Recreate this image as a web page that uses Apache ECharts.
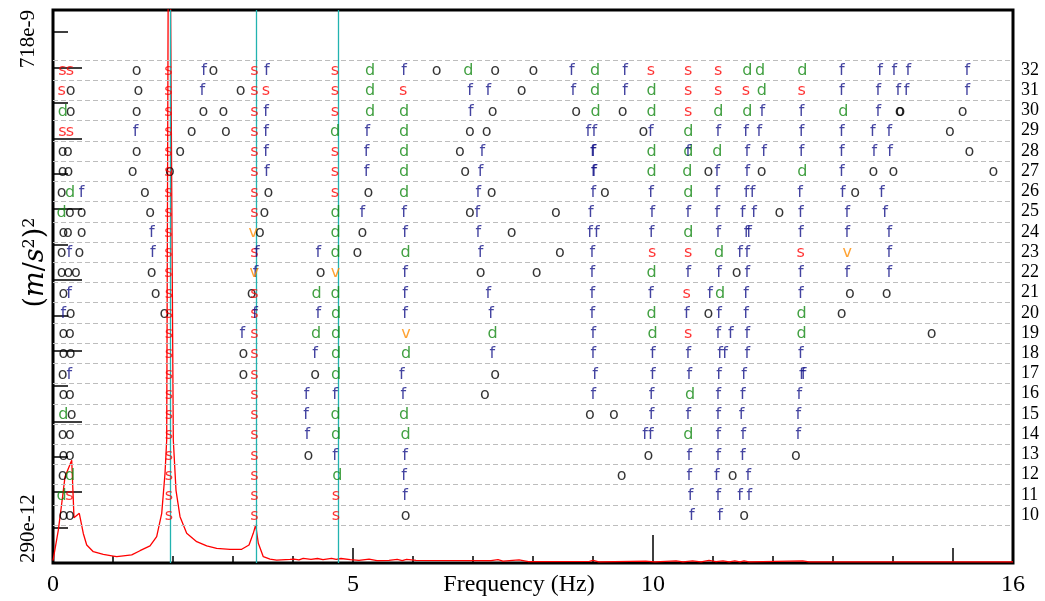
<!DOCTYPE html>
<html>
<head>
<meta charset="utf-8">
<script src="https://cdn.jsdelivr.net/npm/echarts@6/dist/echarts.min.js"></script>
<style>html,body{margin:0;padding:0;background:#fff}#c{width:1045px;height:601px}</style>
</head>
<body>
<div id="c"></div>
<script>
// ---------- data ----------
const orders = [10,11,12,13,14,15,16,17,18,19,20,21,22,23,24,25,26,27,28,29,30,31,32];
const gridRows = [9.5,10.5,11.5,12.5,13.5,14.5,15.5,16.5,17.5,18.5,19.5,20.5,21.5,22.5,23.5,24.5,25.5,26.5,27.5,28.5,29.5,30.5,31.5,32.5];
const xTickLabels = [0, 5, 10, 16];
const psdMin = 290e-12, psdMax = 718e-9;
const psdLabels = ['290e-12', '718e-9'];
const modeFreqs = [1.945, 3.378, 4.745];

const specFreq = [0,0.088,0.145,0.2,0.312,0.35,0.438,0.505,0.562,0.672,0.838,1.005,1.062,1.172,1.312,1.45,1.617,1.728,1.812,1.867,1.895,1.933,2.005,2.05,2.117,2.228,2.395,2.562,2.728,2.95,3.145,3.267,3.338,3.378,3.422,3.505,3.617,3.728,3.95,4.017,4.1,4.17,4.3,4.408,4.5,4.643,4.72,4.8,4.955,5.1,5.268,5.4,5.6,5.737,5.82,5.893,6.05,7.3,7.417,7.5,7.768,7.925,8.94,9.0,9.097,9.878,10.033,10.385,10.5,10.66,10.8,10.933,11.05,11.167,11.27,11.363,11.45,11.518,11.6,12.495,12.6,16];
const specPSD = [3.0e-10,4.6e-10,6.7e-10,9.8e-10,1.24e-9,5.5e-10,5.85e-10,4.4e-10,3.74e-10,3.4e-10,3.28e-10,3.2e-10,3.17e-10,3.21e-10,3.25e-10,3.45e-10,3.69e-10,4.21e-10,5.85e-10,1.03e-9,1.65e-9,3.0e-5,1.65e-9,8.1e-10,5.58e-10,4.41e-10,3.92e-10,3.69e-10,3.57e-10,3.52e-10,3.52e-10,3.74e-10,4.41e-10,4.96e-10,3.83e-10,3.17e-10,3.06e-10,3.02e-10,3.05e-10,3.06e-10,3.03e-10,3.10e-10,3.05e-10,3.09e-10,3.04e-10,3.10e-10,3.05e-10,3.09e-10,3.04e-10,3.01e-10,3.06e-10,3.0e-10,3.01e-10,3.05e-10,3.0e-10,3.05e-10,3.01e-10,3.0e-10,3.04e-10,2.98e-10,3.03e-10,2.96e-10,2.97e-10,3.01e-10,2.95e-10,2.98e-10,2.95e-10,2.99e-10,2.95e-10,2.99e-10,2.95e-10,3.01e-10,2.96e-10,2.99e-10,2.95e-10,2.99e-10,2.95e-10,2.99e-10,2.95e-10,2.99e-10,2.95e-10,2.95e-10];

// poles: [frequency (Hz), model order]
const sPoles = [
[0.155,32],[0.283,32],[1.922,32],[3.355,32],[4.7,32],[9.967,32],[10.588,32],[11.088,32],
[0.145,31],[1.922,31],[3.355,31],[3.55,31],[4.7,31],[5.838,31],[10.588,31],[11.088,31],[11.55,31],[12.478,31],
[1.922,30],[3.355,30],[4.7,30],[10.588,30],
[0.155,29],[0.283,29],[1.922,29],[3.355,29],
[1.922,28],[3.355,28],[4.7,28],
[1.922,27],[3.355,27],[4.7,27],
[1.922,26],[3.355,26],[4.7,26],
[1.922,25],[3.355,25],
[1.922,24],
[1.922,23],[3.355,23],[9.988,23],[10.588,23],[12.462,23],
[1.922,22],
[1.933,21],[3.355,21],[10.562,21],
[1.933,20],[3.355,20],
[1.933,19],[3.355,19],[10.588,19],
[1.933,18],[3.355,18],
[1.933,17],[3.355,17],
[1.933,16],[3.355,16],
[1.933,15],[3.355,15],
[1.933,14],[3.355,14],
[1.933,13],[3.355,13],
[1.933,12],[3.355,12],
[0.272,11],[1.933,11],[3.355,11],[4.717,11],
[1.933,10],[3.355,10],[4.717,10]
];
const dPoles = [
[5.283,32],[6.922,32],[9.033,32],[11.572,32],[11.783,32],[12.488,32],
[5.283,31],[9.033,31],[9.978,31],[11.812,31],
[0.162,30],[5.283,30],[5.85,30],[9.045,30],[9.978,30],[11.088,30],[11.572,30],[13.172,30],
[4.70,29],[5.85,29],[10.588,29],
[5.85,28],[9.978,28],[10.588,28],[11.072,28],
[5.85,27],[9.978,27],[10.572,27],[12.488,27],
[0.283,26],[5.85,26],[10.588,26],
[0.145,25],[4.71,25],
[4.71,24],[10.588,24],
[4.71,23],[5.878,23],[11.1,23],
[9.978,22],
[4.395,21],[4.71,21],[11.117,21],
[4.72,20],[9.978,20],[12.478,20],
[4.383,19],[4.72,19],[7.328,19],[9.995,19],[12.478,19],
[4.72,18],[5.883,18],
[4.72,17],
[10.617,16],
[0.172,15],[4.71,15],[5.85,15],
[4.72,14],[5.878,14],[10.588,14],
[0.283,12],[4.738,12],
[0.145,11]
];
const fPoles = [
[2.517,32],[3.562,32],[5.85,32],[8.645,32],[9.533,32],[13.145,32],[13.783,32],[14.022,32],[14.255,32],[15.238,32],
[2.488,31],[6.95,31],[7.255,31],[8.672,31],[9.533,31],[13.145,31],[13.755,31],[14.088,31],[14.228,31],[15.238,31],
[3.55,30],[6.962,30],[11.822,30],[12.478,30],[13.755,30],
[1.378,29],[3.55,29],[5.238,29],[8.922,29],[9.022,29],[9.962,29],[11.088,29],[11.55,29],[11.772,29],[12.478,29],[13.145,29],[13.662,29],[13.938,29],
[3.55,28],[5.228,28],[7.155,28],[8.998,28],[9.01,28],[10.588,28],[11.572,28],[11.85,28],[12.478,28],[13.145,28],[13.688,28],[13.95,28],
[3.562,27],[5.228,27],[7.128,27],[9.01,27],[9.022,27],[11.072,27],[11.572,27],[13.145,27],
[0.478,26],[7.088,26],[9.005,26],[9.967,26],[11.072,26],[11.558,26],[11.658,26],[12.45,26],[13.162,26],[13.812,26],
[5.155,25],[5.85,25],[7.072,25],[8.962,25],[9.988,25],[10.588,25],[11.072,25],[11.495,25],[11.683,25],[12.462,25],[13.238,25],[13.867,25],
[1.645,24],[5.867,24],[7.088,24],[8.95,24],[9.062,24],[9.978,24],[11.088,24],[11.56,24],[11.6,24],[12.462,24],[13.238,24],[13.938,24],
[0.272,23],[1.662,23],[3.395,23],[4.422,23],[7.128,23],[8.988,23],[11.45,23],[11.572,23],[13.938,23],
[3.378,22],[5.867,22],[8.988,22],[10.588,22],[11.1,22],[11.572,22],[12.462,22],[13.238,22],[13.938,22],
[0.267,21],[5.867,21],[7.255,21],[8.988,21],[9.962,21],[10.95,21],[11.55,21],[12.462,21],
[0.172,20],[3.367,20],[4.422,20],[5.867,20],[7.3,20],[8.988,20],[10.562,20],[11.1,20],[11.55,20],
[3.155,19],[9.005,19],[11.088,19],[11.295,19],[11.572,19],
[4.367,18],[7.322,18],[9.005,18],[9.995,18],[10.588,18],[11.117,18],[11.2,18],[11.572,18],[12.462,18],
[0.272,17],[5.812,17],[9.033,17],[9.995,17],[10.605,17],[11.1,17],[11.517,17],[12.48,17],[12.51,17],
[4.228,16],[4.7,16],[5.838,16],[9.005,16],[9.978,16],[11.088,16],[11.495,16],[12.438,16],
[4.217,15],[9.978,15],[10.588,15],[11.088,15],[11.478,15],[12.422,15],
[4.238,14],[9.867,14],[9.962,14],[11.088,14],[11.505,14],[12.422,14],
[4.7,13],[5.867,13],[10.605,13],[11.088,13],[11.495,13],
[5.85,12],[10.605,12],[11.062,12],[11.588,12],
[5.867,11],[10.628,11],[11.088,11],[11.45,11],[11.605,11],
[10.645,10],[11.117,10]
];
const oPoles = [
[1.395,32],[2.672,32],[6.395,32],[7.367,32],[8.005,32],
[0.295,31],[1.422,31],[3.128,31],[7.812,31],
[0.295,30],[1.395,30],[2.505,30],[2.838,30],[7.328,30],[8.717,30],[9.495,30],[14.11,30],[14.125,30],[15.162,30],
[2.312,29],[2.883,29],[6.95,29],[7.228,29],[9.838,29],[14.95,29],
[0.162,28],[0.25,28],[1.395,28],[2.117,28],[6.783,28],[15.272,28],
[0.162,27],[0.255,27],[1.328,27],[1.95,27],[6.867,27],[10.922,27],[11.812,27],[13.672,27],[14.005,27],[15.672,27],
[0.145,26],[1.533,26],[3.588,26],[5.255,26],[7.312,26],[9.2,26],[13.367,26],
[0.283,25],[0.478,25],[1.617,25],[3.522,25],[6.95,25],[8.383,25],[12.105,25],
[0.172,24],[0.25,24],[0.478,24],[3.45,24],[5.155,24],[7.645,24],
[0.145,23],[0.438,23],[5.072,23],[8.45,23],
[0.145,22],[0.255,22],[0.383,22],[1.645,22],[4.462,22],[7.128,22],[8.062,22],[11.395,22],
[0.172,21],[1.712,21],[3.312,21],[13.283,21],[13.895,21],
[0.295,20],[1.855,20],[10.922,20],[13.145,20],
[0.172,19],[0.283,19],[14.645,19],
[0.172,18],[0.295,18],[3.172,18],
[0.162,17],[3.172,17],[4.367,17],[7.367,17],
[0.172,16],[0.283,16],[7.2,16],
[0.312,15],[8.95,15],[9.35,15],
[0.162,14],[0.283,14],
[0.172,13],[0.283,13],[4.255,13],[9.922,13],[12.383,13],
[0.162,12],[9.478,12],[11.328,12],
[0.172,10],[0.283,10],[5.878,10],[11.517,10]
];
const vPoles = [
[3.338,24],
[13.238,23],
[3.355,22],[4.71,22],
[5.883,19]
];

// ---------- chart ----------
const lnMin = Math.log(psdMin), lnMax = Math.log(psdMax);
const tickStyle = {color: '#000', width: 1.5};
const serif = 'Liberation Serif';

function poleSeries(letter, data, color) {
  return {
    type: 'scatter', xAxisIndex: 0, yAxisIndex: 1,
    data: data, symbol: 'circle', symbolSize: 1,
    itemStyle: {color: 'rgba(0,0,0,0)'},
    silent: true, z: 5,
    label: {show: true, position: 'inside', formatter: letter, color: color,
            fontFamily: 'DejaVu Sans', fontSize: 16, offset: [0, 1]}
  };
}

const chart = echarts.init(document.getElementById('c'), null, {renderer: 'canvas'});
const dashSeries = poleSeries('o', oPoles, '#000');
dashSeries.markLine = {
  silent: true, symbol: 'none', label: {show: false},
  lineStyle: {color: '#bdbdbd', width: 1, type: [5, 3]},
  data: gridRows.map(v => ({yAxis: v}))
};

chart.setOption({
  animation: false,
  backgroundColor: '#fff',
  grid: {left: 53, right: 32, top: 10, bottom: 38, show: true, borderColor: '#000', borderWidth: 3,
         containLabel: false, outerBoundsMode: 'none'},
  xAxis: [
    {type: 'value', min: 0, max: 16, interval: 1, position: 'bottom',
     axisLine: {show: false}, splitLine: {show: false},
     axisTick: {inside: true, length: 7, lineStyle: tickStyle},
     axisLabel: {margin: 10, fontFamily: serif, fontSize: 24, color: '#000',
                 formatter: v => xTickLabels.indexOf(v) >= 0 ? String(v) : ''},
     name: 'Frequency (Hz)', nameLocation: 'middle', nameGap: 10, nameMoveOverlap: false,
     nameTextStyle: {fontFamily: serif, fontSize: 24, color: '#000', padding: [0, 28, 0, 0], verticalAlign: 'top'}},
    {type: 'value', min: 0, max: 16, interval: 5, position: 'bottom',
     axisLine: {show: false}, splitLine: {show: false}, axisLabel: {show: false},
     axisTick: {inside: true, length: 15, lineStyle: tickStyle}},
    {type: 'value', min: 0, max: 16, interval: 10, position: 'bottom',
     axisLine: {show: false}, splitLine: {show: false}, axisLabel: {show: false},
     axisTick: {inside: true, length: 28, lineStyle: tickStyle}}
  ],
  yAxis: [
    {type: 'log', logBase: 10, min: psdMin, max: psdMax, position: 'left', show: false, splitLine: {show: false}},
    {type: 'value', min: 7.63, max: 34.97, position: 'right',
     axisLine: {show: false}, axisTick: {show: false}, splitLine: {show: false},
     axisLabel: {customValues: orders, fontFamily: serif, fontSize: 18, color: '#000', margin: 8}},
    {type: 'value', min: lnMin, max: lnMax, interval: 1, position: 'left',
     axisLine: {show: false}, splitLine: {show: false},
     axisTick: {inside: true, length: 29, lineStyle: tickStyle},
     axisLabel: {rotate: 90, margin: 14, fontFamily: serif, fontSize: 21, color: '#000',
                 alignMinLabel: 'left', alignMaxLabel: 'right',
                 formatter: v => Math.abs(v - lnMin) < 0.01 ? psdLabels[0] : (Math.abs(v - lnMax) < 0.01 ? psdLabels[1] : '')},
     name: '{p|(}{i|m}{p|/}{i|s}{sup|2}{p|)}{sup|2}', nameLocation: 'middle', nameGap: 4, nameMoveOverlap: false,
     nameTextStyle: {color: '#000', padding: [0, 0, 0, 48],
       rich: {p: {fontFamily: 'DejaVu Serif', fontSize: 27, color: '#000'},
              i: {fontFamily: 'DejaVu Serif', fontStyle: 'italic', fontSize: 27, color: '#000'},
              sup: {fontFamily: 'DejaVu Serif', fontSize: 16, color: '#000', verticalAlign: 'top'}}}},
    {type: 'value', min: lnMin, max: lnMax, interval: 0.5, position: 'left',
     axisLine: {show: false}, splitLine: {show: false}, axisLabel: {show: false},
     axisTick: {inside: true, length: 15, lineStyle: tickStyle}}
  ],
  series: [
    dashSeries,
    {type: 'line', xAxisIndex: 0, yAxisIndex: 0, symbol: 'none', clip: true, z: 3,
     data: specFreq.map((f, i) => [f, specPSD[i]]),
     lineStyle: {color: '#ff0000', width: 1.3},
     markLine: {silent: true, symbol: 'none', label: {show: false},
       lineStyle: {color: '#22b3b0', width: 1.3, type: 'solid'},
       data: modeFreqs.map(f => ({xAxis: f}))}},
    poleSeries('s', sPoles, '#ff0000'),
    poleSeries('d', dPoles, '#138813'),
    poleSeries('f', fPoles, '#141488'),
    poleSeries('v', vPoles, '#ff8c00')
  ]
});
</script>
</body>
</html>
